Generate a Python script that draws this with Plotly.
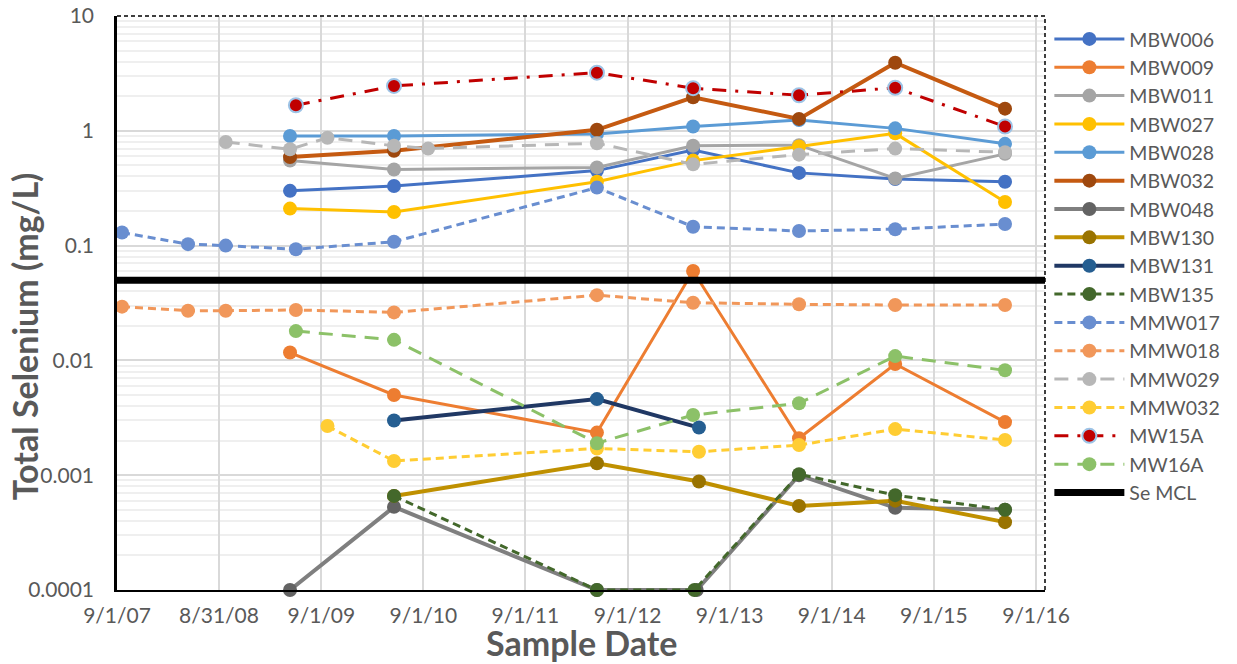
import plotly.graph_objects as go

# ---------------- data ----------------
x_tick_dates = ["2007-09-01", "2008-08-31", "2009-09-01", "2010-09-01", "2011-09-01",
                "2012-09-01", "2013-09-01", "2014-09-01", "2015-09-01", "2016-09-01"]
x_tick_labels = ["9/1/07", "8/31/08", "9/1/09", "9/1/10", "9/1/11",
                 "9/1/12", "9/1/13", "9/1/14", "9/1/15", "9/1/16"]
y_tick_values = [10, 1, 0.1, 0.01, 0.001, 0.0001]
y_tick_labels = ["10", "1", "0.1", "0.01", "0.001", "0.0001"]

mbw006_dates = ["2009-05-12", "2010-05-19", "2012-05-14", "2013-04-23", "2014-05-07", "2015-04-16", "2016-05-13"]
mbw006_values = [0.30, 0.33, 0.45, 0.68, 0.43, 0.38, 0.36]

mbw009_dates = ["2009-05-12", "2010-05-19", "2012-05-14", "2013-04-23", "2014-05-07", "2015-04-16", "2016-05-13"]
mbw009_values = [0.0117, 0.0050, 0.00235, 0.060, 0.0021, 0.0093, 0.0029]

mbw011_dates = ["2009-05-12", "2010-05-19", "2012-05-14", "2013-04-23", "2014-05-07", "2015-04-16", "2016-05-13"]
mbw011_values = [0.55, 0.46, 0.48, 0.74, 0.75, 0.385, 0.63]

mbw027_dates = ["2009-05-12", "2010-05-19", "2012-05-14", "2013-04-23", "2014-05-07", "2015-04-16", "2016-05-13"]
mbw027_values = [0.21, 0.196, 0.36, 0.55, 0.73, 0.95, 0.24]

mbw028_dates = ["2009-05-12", "2010-05-19", "2012-05-14", "2013-04-23", "2014-05-07", "2015-04-16", "2016-05-13"]
mbw028_values = [0.90, 0.90, 0.94, 1.09, 1.24, 1.05, 0.77]

mbw032_dates = ["2009-05-12", "2010-05-19", "2012-05-14", "2013-04-23", "2014-05-07", "2015-04-16", "2016-05-13"]
mbw032_values = [0.59, 0.67, 1.02, 1.96, 1.27, 3.92, 1.56]

mbw048_dates = ["2009-05-12", "2010-05-19", "2012-05-14", "2013-05-06", "2014-05-07", "2015-04-16", "2016-05-13"]
mbw048_values = [0.0001, 0.00053, 0.0001, 0.0001, 0.00100, 0.00052, 0.00050]

mbw130_dates = ["2010-05-19", "2012-05-14", "2013-05-14", "2014-05-07", "2015-04-16", "2016-05-13"]
mbw130_values = [0.00066, 0.00127, 0.00088, 0.00054, 0.00060, 0.00039]

mbw131_dates = ["2010-05-19", "2012-05-14", "2013-05-14"]
mbw131_values = [0.0030, 0.0046, 0.0026]

mbw135_dates = ["2010-05-19", "2012-05-14", "2013-04-28", "2014-05-07", "2015-04-16", "2016-05-13"]
mbw135_values = [0.00066, 0.0001, 0.0001, 0.00102, 0.00067, 0.00050]

mmw017_dates = ["2007-09-19", "2008-05-12", "2008-09-24", "2009-06-02", "2010-05-19", "2012-05-14",
                "2013-04-23", "2014-05-07", "2015-04-16", "2016-05-13"]
mmw017_values = [0.13, 0.103, 0.100, 0.093, 0.108, 0.32, 0.146, 0.134, 0.139, 0.154]

mmw018_dates = ["2007-09-19", "2008-05-12", "2008-09-24", "2009-06-02", "2010-05-19", "2012-05-14",
                "2013-04-23", "2014-05-07", "2015-04-16", "2016-05-13"]
mmw018_values = [0.0294, 0.0271, 0.0271, 0.0275, 0.0262, 0.037, 0.0318, 0.0308, 0.0304, 0.0304]

mmw029_dates = ["2008-09-24", "2009-05-12", "2009-09-23", "2010-05-19", "2010-09-18", "2012-05-14",
                "2013-04-23", "2014-05-07", "2015-04-16", "2016-05-13"]
mmw029_values = [0.80, 0.69, 0.87, 0.74, 0.70, 0.78, 0.51, 0.62, 0.70, 0.65]

mmw032_dates = ["2009-09-23", "2010-05-19", "2012-05-14", "2013-05-14", "2014-05-07", "2015-04-16", "2016-05-13"]
mmw032_values = [0.00268, 0.00133, 0.00171, 0.00160, 0.00183, 0.00252, 0.00203]

mw15a_dates = ["2009-06-02", "2010-05-19", "2012-05-14", "2013-04-23", "2014-05-07", "2015-04-16", "2016-05-13"]
mw15a_values = [1.67, 2.46, 3.21, 2.35, 2.04, 2.37, 1.09]

mw16a_dates = ["2009-06-02", "2010-05-19", "2012-05-14", "2013-04-23", "2014-05-07", "2015-04-16", "2016-05-13"]
mw16a_values = [0.018, 0.0151, 0.0019, 0.00334, 0.00423, 0.0109, 0.0082]

mcl_dates = ["2007-09-01", "2016-10-03"]
mcl_values = [0.05, 0.05]

x_range = ["2007-09-01", "2016-10-03"]

# ---------------- styles ----------------
series = [
    ("MBW006", mbw006_dates, mbw006_values, "#4472C4", "#4472C4", 3, "solid"),
    ("MBW009", mbw009_dates, mbw009_values, "#ED7D31", "#ED7D31", 3, "solid"),
    ("MBW011", mbw011_dates, mbw011_values, "#A5A5A5", "#A5A5A5", 3, "solid"),
    ("MBW027", mbw027_dates, mbw027_values, "#FFC000", "#FFC000", 3, "solid"),
    ("MBW028", mbw028_dates, mbw028_values, "#5B9BD5", "#5B9BD5", 3, "solid"),
    ("MBW032", mbw032_dates, mbw032_values, "#C55A11", "#9E480E", 4, "solid"),
    ("MBW048", mbw048_dates, mbw048_values, "#7F7F7F", "#636363", 4, "solid"),
    ("MBW130", mbw130_dates, mbw130_values, "#BF9000", "#997300", 4, "solid"),
    ("MBW131", mbw131_dates, mbw131_values, "#203864", "#255E91", 4, "solid"),
    ("MBW135", mbw135_dates, mbw135_values, "#43682B", "#43682B", 3, "8px,5px"),
    ("MMW017", mmw017_dates, mmw017_values, "#698ED0", "#698ED0", 3, "8px,5px"),
    ("MMW018", mmw018_dates, mmw018_values, "#F1975A", "#F1975A", 3, "8px,5px"),
    ("MMW029", mmw029_dates, mmw029_values, "#B7B7B7", "#B7B7B7", 3, "14px,9px"),
    ("MMW032", mmw032_dates, mmw032_values, "#FFCD33", "#FFCD33", 3, "8px,5px"),
    ("MW15A", mw15a_dates, mw15a_values, "#C00000", "#C00000", 3, "14px,9px,3px,9px"),
    ("MW16A", mw16a_dates, mw16a_values, "#8CC168", "#8CC168", 3, "14px,9px"),
]

fig = go.Figure()
for name, xs, ys, lc, mc, lw, dash in series:
    mline = dict(width=2, color="#9DC3E6") if name == "MW15A" else dict(width=0)
    fig.add_trace(go.Scatter(
        x=xs, y=ys, name=name, mode="lines+markers",
        line=dict(color=lc, width=lw, dash=dash),
        marker=dict(color=mc, size=14, line=mline),
        cliponaxis=False,
    ))

fig.add_trace(go.Scatter(
    x=mcl_dates, y=mcl_values, name="Se MCL", mode="lines",
    line=dict(color="black", width=7), cliponaxis=False,
))

fig.update_layout(
    width=1237, height=664,
    margin=dict(l=117, r=192, t=16, b=74, autoexpand=False),
    paper_bgcolor="white", plot_bgcolor="white",
    font=dict(family="Lato", color="#595959", size=21),
    showlegend=True,
    legend=dict(x=1.0047, y=0.9935, xanchor="left", yanchor="top",
                font=dict(size=19.5, color="#595959"), itemwidth=70,
                bgcolor="rgba(0,0,0,0)"),
    xaxis=dict(
        type="date", range=x_range, automargin=False,
        tickvals=x_tick_dates, ticktext=x_tick_labels,
        showgrid=True, gridcolor="#d9d9d9", gridwidth=2,
        showline=True, linecolor="black", linewidth=2,
        zeroline=False, ticks="", ticklabelstandoff=6,
        ticklabeloverflow="allow",
        tickfont=dict(size=21, color="#595959"),
    ),
    yaxis=dict(
        type="log", range=[-4, 1], automargin=False,
        tickvals=y_tick_values, ticktext=y_tick_labels,
        showgrid=True, gridcolor="#d9d9d9", gridwidth=2,
        minor=dict(dtick="D1", showgrid=True, gridcolor="#efefef", gridwidth=2),
        showline=True, linecolor="black", linewidth=2.5,
        zeroline=False, ticks="", ticklabelstandoff=16,
        ticklabeloverflow="allow",
        tickfont=dict(size=21, color="#595959"),
    ),
    annotations=[
        dict(text="<b>Sample Date</b>", xref="paper", yref="paper", x=0.5, y=-0.0906,
             xanchor="center", yanchor="middle", showarrow=False,
             font=dict(size=34, color="#595959")),
        dict(text="<b>Total Selenium (mg/L)</b>", xref="paper", yref="paper", x=-0.1, y=0.4425,
             xanchor="center", yanchor="middle", showarrow=False, textangle=-90,
             font=dict(size=34, color="#595959")),
    ],
    shapes=[
        dict(type="line", xref="paper", yref="paper", x0=0, x1=1, y0=1, y1=1,
             line=dict(color="black", width=1.5, dash="4px,3px"), layer="above"),
        dict(type="line", xref="paper", yref="paper", x0=1, x1=1, y0=0, y1=1,
             line=dict(color="black", width=1.5, dash="4px,3px"), layer="above"),
    ],
)

fig.write_html("out.html", config={"displayModeBar": False},
               post_script="document.body.style.margin='0px';")
